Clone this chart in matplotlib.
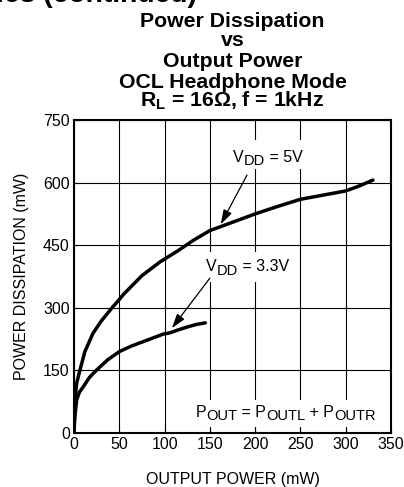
import matplotlib
matplotlib.use("Agg")
import matplotlib.pyplot as plt
from matplotlib.patches import Rectangle
from matplotlib.transforms import ScaledTranslation

plt.rcParams['font.family'] = ['Liberation Sans', 'DejaVu Sans']
plt.rcParams['mathtext.fontset'] = 'custom'
plt.rcParams['mathtext.rm'] = 'Liberation Sans'
plt.rcParams['mathtext.bf'] = 'Liberation Sans:bold'
plt.rcParams['mathtext.it'] = 'Liberation Sans:italic'

# ---- data ----
x_5v = [0, 1, 3, 6.6, 12, 21, 30, 42, 50, 55, 75, 95, 115, 132, 150, 175, 200, 225, 250, 280, 300, 315, 330]
p_5v = [0, 79, 120, 151, 195, 239, 268, 300, 320, 333, 377, 410, 437, 462, 485, 505, 525, 543, 560, 572, 580, 592, 606]
x_33v = [0, 1, 2.9, 6, 10.3, 17, 25, 37, 50, 63, 76.5, 90, 98.6, 106, 115, 125, 135, 145]
p_33v = [0, 40, 79, 98, 111, 133, 151, 175, 195, 208, 219, 230, 237, 240, 247, 254, 260, 264]
x_ticks = [0, 50, 100, 150, 200, 250, 300, 350]
y_ticks = [0, 150, 300, 450, 600, 750]

title_lines = ["Power Dissipation", "vs", "Output Power", "OCL Headphone Mode",
               r"$\mathbf{R_{L}}$ = 16Ω, f = 1kHz"]

W, H = 404, 487
fig = plt.figure(figsize=(W / 100, H / 100), dpi=100)
ax = fig.add_axes([74 / W, 1 - 433 / H, 317 / W, 313 / H])

ax.set_xlim(0, 350)
ax.set_ylim(0, 750)
ax.set_xticks(x_ticks)
ax.set_yticks(y_ticks)
ax.grid(True, color='black', lw=0.8, zorder=1)
ax.set_axisbelow(True)
ax.tick_params(direction='in', length=4, width=0.8, labelsize=11.5, pad=3, color='black')
for s in ax.spines.values():
    s.set_linewidth(1.5)
    s.set_color('black')
    s.set_zorder(5)

ax.plot(x_5v, p_5v, color='black', lw=2.5, solid_capstyle='round', solid_joinstyle='round', zorder=4)
ax.plot(x_33v, p_33v, color='black', lw=2.5, solid_capstyle='round', solid_joinstyle='round', zorder=4)

ax.set_xlabel("OUTPUT POWER (mW)", fontsize=11.5, labelpad=14)
ax.set_ylabel("POWER DISSIPATION (mW)", fontsize=11.5, labelpad=10)

# white label backgrounds (boxes in data units)
for (x0, x1, y0, y1) in [(176, 253, 632, 701), (142, 245, 362, 434), (136, 340, 15, 78)]:
    ax.add_patch(Rectangle((x0, y0), x1 - x0, y1 - y0, fc='white', ec='none', zorder=2))

renderer = fig.canvas.get_renderer()


def advance(s, size):
    t1 = fig.text(0, 0, '|' + s + '|', fontsize=size)
    w1 = t1.get_window_extent(renderer).width
    t1.remove()
    t2 = fig.text(0, 0, '||', fontsize=size)
    w2 = t2.get_window_extent(renderer).width
    t2.remove()
    return w1 - w2


def rich_text(x, y, pieces, main=11.5, sub=10.5, drop=2.3):
    """pieces: list of (text, is_sub); centered at data (x, y) baseline."""
    widths = [advance(t, sub if s else main) for t, s in pieces]
    total = sum(widths)
    cx = -total / 2.0
    for (t, s), w in zip(pieces, widths):
        off = ScaledTranslation(cx / fig.dpi, (-drop if s else 0) / 72.0, fig.dpi_scale_trans)
        ax.text(x, y, t, transform=ax.transData + off, ha='left', va='baseline',
                fontsize=sub if s else main, zorder=6)
        cx += w


# labels
rich_text(214, 650, [("V", False), ("DD", True), (" = 5V", False)])
rich_text(192, 387, [("V", False), ("DD", True), (" = 3.3V", False)])
rich_text(234, 38, [("P", False), ("OUT", True), (" = P", False), ("OUTL", True),
                    (" + P", False), ("OUTR", True)])

arrow = dict(arrowstyle='-|>,head_length=0.8,head_width=0.25', color='black', lw=0.9,
             shrinkA=0, shrinkB=0, mutation_scale=11)
ax.annotate("", xy=(162, 500), xytext=(191, 618), arrowprops=arrow, zorder=6)
ax.annotate("", xy=(108, 251), xytext=(150, 371), arrowprops=arrow, zorder=6)

# title lines
baselines = [27, 46, 67, 88, 107]
for line, b in zip(title_lines, baselines):
    fig.text(232.5 / W, 1 - b / H, line, ha='center', va='baseline',
             fontsize=15.3, fontweight='bold')

# cut-off section header
fig.text(197 / W, 1 - 2 / H, "Typical Characteristics (continued)", ha='right', va='baseline',
         fontsize=20.3, fontweight='bold')

fig.savefig("out.png", dpi=100)
